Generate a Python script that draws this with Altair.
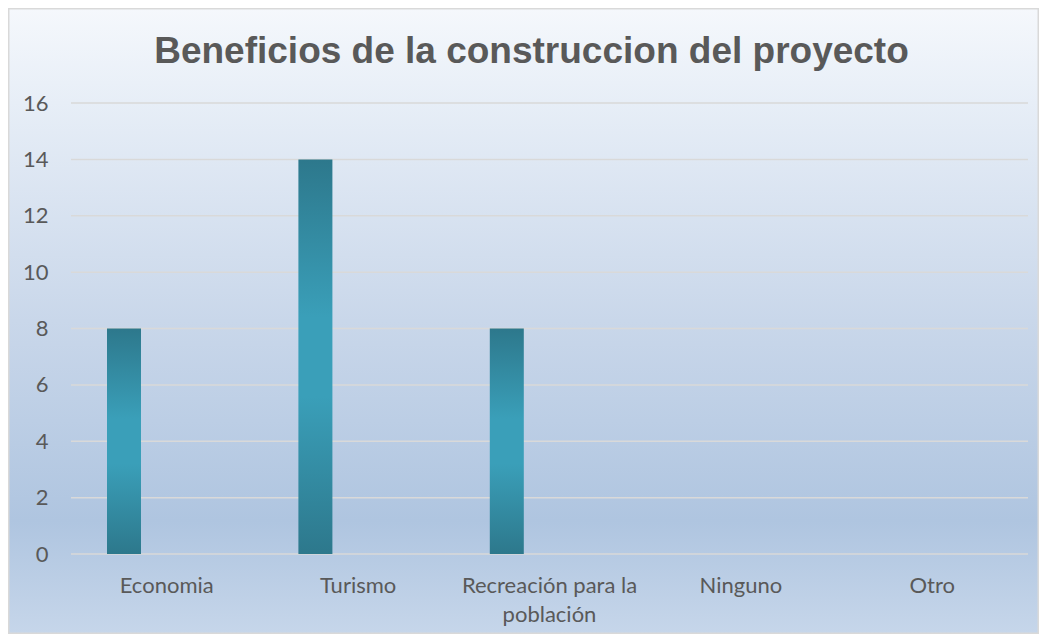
import altair as alt
import pandas as pd

# ---- data ----
categories = ["Economia", "Turismo", "Recreación para la población", "Ninguno", "Otro"]
values = [8, 14, 8, 0, 0]
y_ticks = [0, 2, 4, 6, 8, 10, 12, 14, 16]
title_text = ["Beneficios de la construccion del proyecto"]

df = pd.DataFrame({"categoria": categories, "valor": values})
grid_df = pd.DataFrame({"tick": y_ticks})
title_df = pd.DataFrame({"t": title_text})

W, H = 957, 451
PAD_L, PAD_T, PAD_R, PAD_B = 63, 95, 11, 80

bg_gradient = {
    "gradient": "linear", "x1": 0, "y1": 0, "x2": 0, "y2": 1,
    "stops": [
        {"offset": 0.0, "color": "#f5f8fc"},
        {"offset": 0.15, "color": "#e7eef7"},
        {"offset": 0.5, "color": "#c9d7ea"},
        {"offset": 0.82, "color": "#afc5e0"},
        {"offset": 1.0, "color": "#c6d6ea"},
    ],
}
bar_gradient = {
    "gradient": "linear", "x1": 0, "y1": 0, "x2": 0, "y2": 1,
    "stops": [
        {"offset": 0.0, "color": "#2d788c"},
        {"offset": 0.4, "color": "#3a9fb9"},
        {"offset": 0.6, "color": "#3a9fb9"},
        {"offset": 1.0, "color": "#2d788c"},
    ],
}

bg = alt.Chart(pd.DataFrame({"k": [0]})).mark_rect(
    fill=bg_gradient, stroke="#d9d9d9", strokeWidth=1.5
).encode(
    x=alt.value(-PAD_L + 0.75), x2=alt.value(W + PAD_R - 0.75),
    y=alt.value(-PAD_T + 0.75), y2=alt.value(H + PAD_B - 0.75),
)

y_scale = alt.Scale(domain=[0, 16], nice=False)
y_axis = alt.Axis(
    title=None, values=y_ticks, domain=False, ticks=False, grid=False,
    labelFont="Lato", labelFontSize=22, labelColor="#595959",
    labelPadding=23, zindex=1,
)

grid = alt.Chart(grid_df).mark_rule(color="#d9d9d9", strokeWidth=1.5).encode(
    y=alt.Y("tick:Q", scale=y_scale, axis=y_axis),
    x=alt.value(0), x2=alt.value(W),
)

bars = alt.Chart(df).mark_bar(width=34, xOffset=-42.7, fill=bar_gradient).encode(
    x=alt.X(
        "categoria:N", sort=categories,
        scale=alt.Scale(paddingInner=0, paddingOuter=0),
        axis=alt.Axis(
            title=None, labelAngle=0, domain=False, ticks=False, grid=False,
            labelFont="Lato", labelFontSize=22, labelColor="#595959",
            labelPadding=21, labelLineHeight=29, labelLimit=400, zindex=1,
            labelBaseline="top",
            labelExpr="datum.label == 'Recreación para la población' ? ['Recreación para la', 'población'] : datum.label",
        ),
    ),
    y=alt.Y("valor:Q", scale=y_scale, axis=y_axis),
)

title = alt.Chart(title_df).mark_text(
    font="Liberation Sans", fontSize=37, fontWeight="bold", color="#595959",
    align="center", baseline="alphabetic",
).encode(
    text="t:N", x=alt.value(460.5), y=alt.value(-40),
)

chart = alt.layer(bg, grid, bars, title).properties(
    width=W, height=H,
    padding={"left": PAD_L, "top": PAD_T, "right": PAD_R, "bottom": PAD_B},
    autosize=alt.AutoSizeParams(type="none"),
    background="white",
).configure_view(stroke=None)

chart.save("out.html", embed_options={"renderer": "svg", "actions": False})
